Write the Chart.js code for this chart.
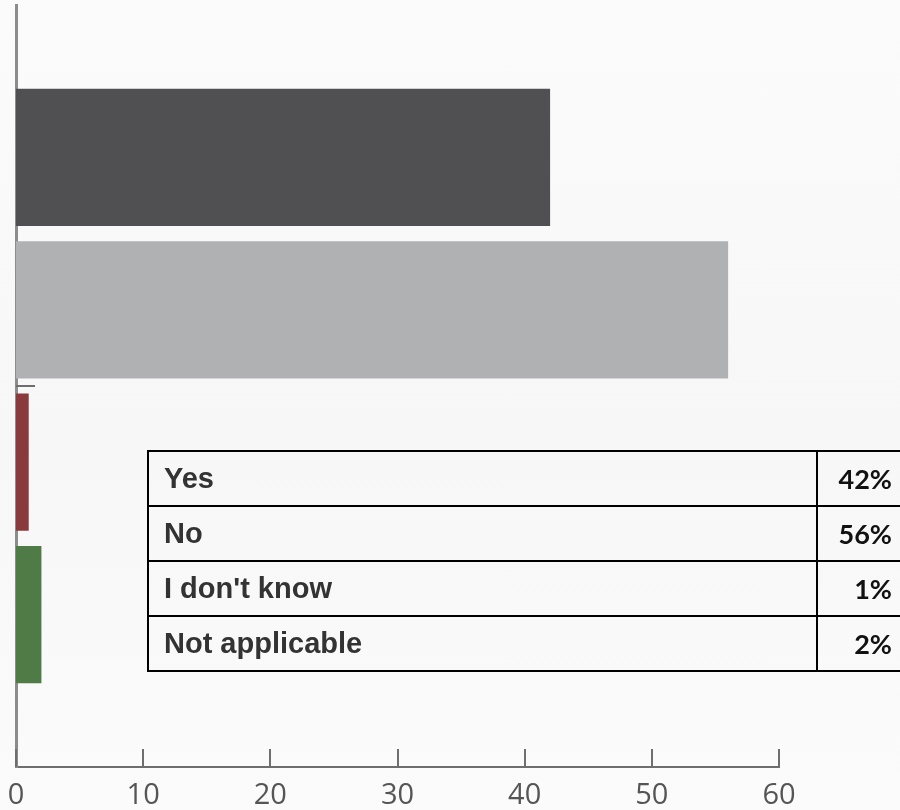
<!DOCTYPE html>
<html>
<head>
<meta charset="utf-8">
<script src="https://cdn.jsdelivr.net/npm/chart.js@4.4.1/dist/chart.umd.min.js"></script>
<style>
  html, body { margin: 0; padding: 0; background: #fafafa; }
  #wrap { position: relative; width: 900px; height: 810px; overflow: hidden;
    background: linear-gradient(180deg, #fbfbfb 0%, #f7f7f7 55%, #fbfbfb 100%); }
  canvas { position: absolute; left: 0; top: 0; }
  #answers { position: absolute; left: 147px; top: 450px; border-collapse: collapse;
    table-layout: fixed; width: 772px; background: transparent; }
  #answers td { border: 2px solid #000; height: 55px; padding: 0; box-sizing: border-box; }
  #answers td.lbl { width: 669px; padding-left: 15px; font-family: "Liberation Sans", Arial, sans-serif;
    font-weight: bold; font-size: 29px; color: #333; }
  #answers td.pct { width: 103px; padding-right: 27px; text-align: right; font-family: Lato, "Open Sans", sans-serif;
    font-weight: bold; font-size: 27px; color: #111; }
</style>
</head>
<body>
<div id="wrap">
  <canvas id="chart" width="900" height="810"></canvas>
  <table id="answers"></table>
</div>
<script>
// Survey answers and their shares (percent)
const categories = ['Yes', 'No', "I don't know", 'Not applicable'];
const percentages = [42, 56, 1, 2];
const barColors = ['#505052', '#b0b1b3', '#8a3a3d', '#4f7b46'];
const xTickValues = [0, 10, 20, 30, 40, 50, 60];

// Empty slots above and below give the category axis its margins
const axisLabels = [''].concat(categories, ['']);
const axisValues = [null].concat(percentages, [null]);
const axisColors = ['#000'].concat(barColors, ['#000']);

// Answer table laid over the chart
const table = document.getElementById('answers');
categories.forEach(function (name, i) {
  const tr = document.createElement('tr');
  const a = document.createElement('td');
  a.className = 'lbl';
  a.textContent = name;
  const b = document.createElement('td');
  b.className = 'pct';
  b.textContent = percentages[i] + '%';
  tr.appendChild(a);
  tr.appendChild(b);
  table.appendChild(tr);
});

// Short tick marks drawn inward from the axes
const innerTicks = {
  id: 'innerTicks',
  afterDraw(chart) {
    const ctx = chart.ctx;
    const xs = chart.scales.x;
    const ys = chart.scales.y;
    ctx.save();
    ctx.strokeStyle = '#6e6e6e';
    ctx.lineWidth = 2;
    ctx.beginPath();
    xTickValues.forEach(function (v) {
      const px = Math.round(xs.getPixelForValue(v));
      ctx.moveTo(px, xs.top - 18);
      ctx.lineTo(px, xs.top);
    });
    // divider between the "No" and "I don't know" rows
    const yMid = (ys.getPixelForValue(2) + ys.getPixelForValue(3)) / 2;
    ctx.moveTo(xs.left, yMid);
    ctx.lineTo(xs.left + 19, yMid);
    ctx.stroke();
    ctx.restore();
  }
};

new Chart(document.getElementById('chart'), {
  type: 'bar',
  data: {
    labels: axisLabels,
    datasets: [{
      data: axisValues,
      backgroundColor: axisColors,
      borderWidth: 0,
      categoryPercentage: 1,
      barPercentage: 0.9
    }]
  },
  options: {
    indexAxis: 'y',
    responsive: false,
    animation: false,
    layout: { padding: { left: 16, top: 5, right: 121, bottom: 0 } },
    plugins: { legend: { display: false }, tooltip: { enabled: false } },
    scales: {
      x: {
        type: 'linear',
        min: 0,
        max: 60,
        afterBuildTicks(scale) { scale.ticks = xTickValues.map(function (v) { return { value: v }; }); },
        afterFit(scale) {
          scale.height = 43;
          scale.paddingLeft = 0;
          scale.paddingRight = 0;
        },
        grid: { display: false, drawTicks: false },
        border: { display: true, color: '#6e6e6e', width: 2 },
        ticks: {
          padding: 11,
          color: '#555',
          font: { family: '"Open Sans", sans-serif', size: 29 }
        }
      },
      y: {
        type: 'category',
        offset: false,
        afterFit(scale) { scale.width = 0; },
        grid: { display: false, drawTicks: false },
        border: { display: true, color: '#8c8c8c', width: 3 },
        ticks: { display: false }
      }
    }
  },
  plugins: [innerTicks]
});
</script>
</body>
</html>
